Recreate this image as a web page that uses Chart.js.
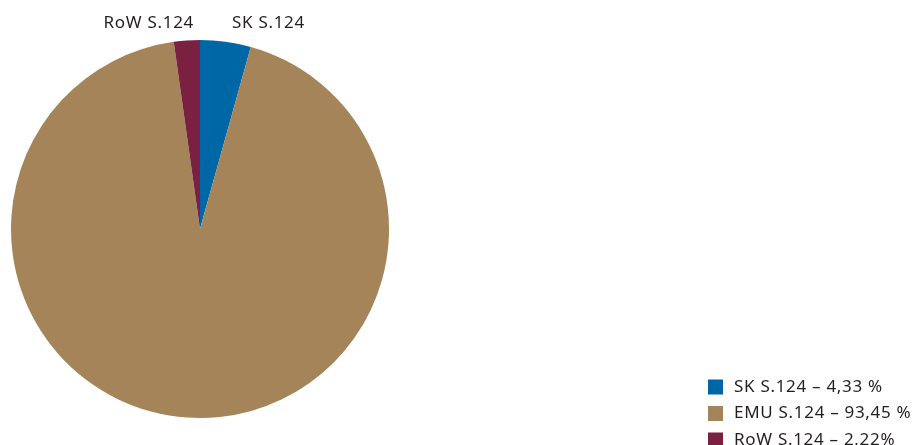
<!DOCTYPE html>
<html>
<head>
<meta charset="utf-8">
<script src="https://cdn.jsdelivr.net/npm/chart.js@4"></script>
<style>
  html, body { margin: 0; padding: 0; background: #fff; overflow: hidden; }
  #wrap { position: relative; width: 923px; height: 445px; }
</style>
</head>
<body>
<div id="wrap"><canvas id="pieChart" width="923" height="445"></canvas></div>
<script>
// sector shares (%), clockwise from 12 o'clock
const categories = ['SK S.124', 'EMU S.124', 'RoW S.124'];
const shares     = [4.33, 93.45, 2.22];
const legendText = ['SK S.124 – 4,33 %', 'EMU S.124 – 93,45 %', 'RoW S.124 – 2,22%'];
const colors     = ['#0067a6', '#a6845a', '#7a2141'];

const FONT = '17px "Noto Sans", "Open Sans", sans-serif';

// outside labels + legend drawn after the pie
const labelsPlugin = {
  id: 'labelsPlugin',
  afterDraw(chart) {
    const ctx = chart.ctx;
    const arc = chart.getDatasetMeta(0).data[0];
    const cx = arc.x, top = arc.y - arc.outerRadius;
    ctx.save();
    ctx.font = FONT;
    ctx.letterSpacing = '0.7px';
    ctx.fillStyle = '#231f20';
    ctx.textBaseline = 'middle';
    // RoW sits left of 12 o'clock, SK right of it
    ctx.textAlign = 'right';
    ctx.fillText(categories[2], cx - 6, top - 17);
    ctx.textAlign = 'left';
    ctx.fillText(categories[0], cx + 32, top - 17);

    // legend, bottom right (last row runs off the canvas like the original)
    const lx = 708, ly = 387, step = 26.5;
    legendText.forEach((t, i) => {
      const y = ly + i * step;
      ctx.fillStyle = colors[i];
      ctx.fillRect(lx, y - 7.5, 15, 15);
      ctx.fillStyle = '#231f20';
      ctx.fillText(t, lx + 26, y);
    });
    ctx.restore();
  }
};

new Chart(document.getElementById('pieChart'), {
  type: 'pie',
  data: {
    labels: categories,
    datasets: [{
      data: shares,
      backgroundColor: colors,
      borderWidth: 0,
    }],
  },
  options: {
    responsive: false,
    animation: false,
    layout: { padding: { left: 11, top: 40, right: 534, bottom: 27 } },
    plugins: { legend: { display: false }, tooltip: { enabled: false } },
  },
  plugins: [labelsPlugin],
});
</script>
</body>
</html>
